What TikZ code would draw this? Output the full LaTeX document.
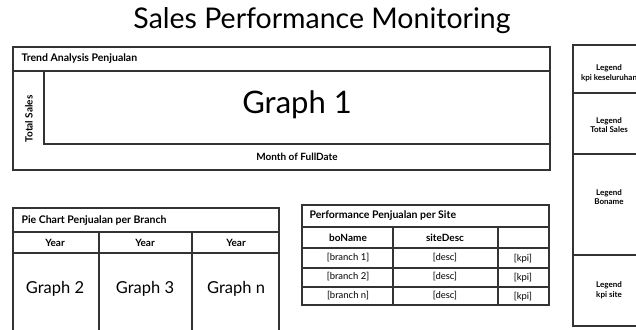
\documentclass[tikz,border=0pt]{standalone}
\usepackage{fontspec}
\setmainfont{Lato}
\usepackage{tikz}
\usetikzlibrary{positioning}
\definecolor{linegray}{HTML}{333333}

\tikzset{
  box/.style={draw=linegray, line width=1.1pt},
  head/.style={anchor=west, font=\fontsize{10.5}{12}\selectfont\bfseries},
  label/.style={font=\fontsize{10}{12}\selectfont\bfseries},
  cell/.style={font=\fontsize{9.5}{11}\selectfont},
  graph/.style={font=\fontsize{16.5}{20}\selectfont},
  legend/.style={align=center, font=\fontsize{8}{9.5}\selectfont\bfseries},
}

\begin{document}
\begin{tikzpicture}[x=1pt, y=-1pt]
  \useasboundingbox (0,0) rectangle (636,329);
  \clip (0,0) rectangle (636,329);

  \node (title) at (322,21) {\fontsize{28.5}{32}\selectfont Sales Performance Monitoring};

  % trend analysis
  \draw[box] (13,47) rectangle (550,170);
  \draw[box] (13,71) -- (550,71);
  \draw[box] (44,71) rectangle (550,144);
  \node[head] (trend) at (18,59) {Trend Analysis Penjualan};
  \node[label, rotate=90] (ylab) at (29,119) {Total Sales};
  \node (g1) at (297,105) {\fontsize{31}{36}\selectfont Graph 1};
  \node[label] (xlab) at (297,157) {Month of FullDate};

  % pie chart per branch
  \draw[box] (13,208) rectangle (279,345);
  \draw[box] (13,232) -- (279,232);
  \draw[box] (13,253) -- (279,253);
  \draw[box] (99,232) -- (99,345);
  \draw[box] (192,232) -- (192,345);
  \node[head] (pie) at (18,221) {Pie Chart Penjualan per Branch};
  \foreach \x/\n in {55/2,145/3,236/n}{
    \node[label] (year\n) at (\x,243) {Year};
    \node[graph] (g\n) at (\x,289) {Graph \n};
  }

  % performance per site
  \draw[box] (302,205) rectangle (549,305);
  \foreach \y in {227,248,268,287}
    \draw[box] (302,\y) -- (549,\y);
  \draw[box] (393,227) -- (393,305);
  \draw[box] (498,227) -- (498,305);
  \node[head] (perf) at (306,216) {Performance Penjualan per Site};
  \node[label] (boname) at (348,238) {boName};
  \node[label] (sitedesc) at (445,238) {siteDesc};
  \foreach \y/\b in {258/1,277/2,296/n}{
    \node[cell] (br\b) at (348,\y) {[branch \b]};
    \node[cell] (desc\b) at (445,\y) {[desc]};
    \node[cell] (kpi\b) at (523,\y+1) {[kpi]};
  }

  % legends
  \draw[box] (573,45) rectangle (660,326);
  \foreach \y in {93,154,255}
    \draw[box] (573,\y) -- (660,\y);
  \node[legend] (lgkpi) at (609,73) {Legend\\kpi keseluruhan};
  \node[legend] (lgsales) at (609,125) {Legend\\Total Sales};
  \node[legend] (lgbo) at (609,197) {Legend\\Boname};
  \node[legend] (lgsite) at (609,290) {Legend\\kpi site};
\end{tikzpicture}
\end{document}
